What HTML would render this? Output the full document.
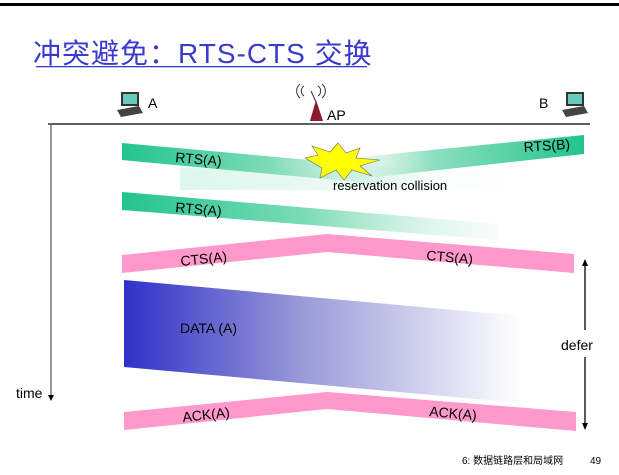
<!DOCTYPE html>
<html><head><meta charset="utf-8"><style>
html,body{margin:0;padding:0;background:#fff;width:619px;height:475px;overflow:hidden}
svg{display:block}
.l{font-family:"Liberation Sans","DejaVu Sans",sans-serif;font-size:14px;fill:#000}
</style></head><body>
<svg width="619" height="475" viewBox="0 0 619 475" xmlns="http://www.w3.org/2000/svg">
<defs>
<linearGradient id="g1" x1="0" x2="1" y1="0" y2="0"><stop offset="0" stop-color="#22c48e"/><stop offset="0.5" stop-color="#7fdcb8"/><stop offset="1" stop-color="#e6f7ef" stop-opacity="0.3"/></linearGradient>
<linearGradient id="g1r" x1="1" x2="0" y1="0" y2="0"><stop offset="0" stop-color="#22c48e"/><stop offset="0.6" stop-color="#8fdfc0"/><stop offset="1" stop-color="#e6f7ef" stop-opacity="0.2"/></linearGradient>
<linearGradient id="g2" x1="0" x2="1" y1="0" y2="0"><stop offset="0" stop-color="#3030c8"/><stop offset="0.45" stop-color="#9a9ad8"/><stop offset="1" stop-color="#ffffff"/></linearGradient>
</defs>
<rect x="0" y="3" width="619" height="3" fill="#000"/>
<text x="33" y="63" font-family="Liberation Sans,'Noto Sans CJK SC',sans-serif" font-size="28" letter-spacing="1" fill="#3a3acc">冲突避免：RTS-CTS 交换</text>
<rect x="36" y="66" width="331" height="1.3" fill="#3a3acc"/>
<g><rect x="121" y="92" width="18" height="14" fill="#333"/><rect x="123" y="94" width="14" height="10" fill="#6cb"/><polygon points="117,110 139,106 143,113 121,117" fill="#444"/></g>
<text x="148" y="108" class="l" font-size="14">A</text>
<g><rect x="566" y="92" width="18" height="14" fill="#333"/><rect x="568" y="94" width="14" height="10" fill="#6cb"/><polygon points="562,110 584,106 588,113 566,117" fill="#444"/></g>
<text x="539" y="108" class="l" font-size="14">B</text>
<g fill="none" stroke="#333" stroke-width="1"><path d="M304,86 a6,6 0 0 0 0,10"/><path d="M300,84 a9,9 0 0 0 0,14"/><path d="M318,86 a6,6 0 0 1 0,10"/><path d="M322,84 a9,9 0 0 1 0,14"/></g>
<line x1="311" y1="91" x2="316" y2="102" stroke="#333"/>
<polygon points="316,100 310,121 323,121" fill="#8b1a2e"/>
<text x="327" y="120" class="l" font-size="14">AP</text>
<line x1="48" y1="124" x2="590" y2="124" stroke="#000" stroke-width="1.3"/>
<line x1="51" y1="124" x2="51" y2="396" stroke="#555" stroke-width="1.2"/>
<polygon points="48,395 54,395 51,401" fill="#000"/>
<text x="16" y="398" class="l" font-size="14">time</text>
<polygon points="180,168 502,172 502,190 180,190" fill="url(#g1)" opacity="0.15"/>
<polygon points="122,143 420,170 420,188 122,160" fill="url(#g1)"/>
<polygon points="584,135 330,160 330,182 584,154" fill="url(#g1r)"/>
<polygon points="305,158 318,155 312,146 330,152 338,143 346,153 360,148 356,158 380,160 360,166 372,176 352,170 344,180 336,170 320,178 322,168" fill="#ffff00" stroke="#666" stroke-width="0.6"/>
<text x="175" y="162" class="l" transform="rotate(5 175 162)">RTS(A)</text>
<text x="524" y="152" class="l" transform="rotate(-4 524 152)">RTS(B)</text>
<text x="333" y="190" font-family="Liberation Sans,sans-serif" font-size="13" fill="#000">reservation collision</text>
<polygon points="122,192 498,224 498,240 122,210" fill="url(#g1)"/>
<text x="175" y="212" class="l" transform="rotate(5 175 212)">RTS(A)</text>
<polygon points="122,255 327,234 574,254 574,273 327,252 122,273" fill="#ff99cc"/>
<text x="181" y="266" class="l" transform="rotate(-6 181 266)">CTS(A)</text>
<text x="426" y="260" class="l" transform="rotate(5 426 260)">CTS(A)</text>
<polygon points="124,280 520,316 520,403 124,367" fill="url(#g2)"/>
<text x="180" y="333" class="l">DATA (A)</text>
<polygon points="124,412 327,392 576,412 576,431 327,409 124,430" fill="#ff99cc"/>
<text x="183" y="422" class="l" transform="rotate(-6 183 422)">ACK(A)</text>
<text x="429" y="416" class="l" transform="rotate(5 429 416)">ACK(A)</text>
<line x1="585" y1="264" x2="585" y2="330" stroke="#000" stroke-width="1.3"/>
<line x1="585" y1="357" x2="585" y2="425" stroke="#000" stroke-width="1.3"/>
<polygon points="582,266 588,266 585,259" fill="#000"/>
<polygon points="582,423 588,423 585,430" fill="#000"/>
<text x="561" y="350" class="l" font-size="15">defer</text>
<text x="462" y="464" font-family="Liberation Sans,'Noto Sans CJK SC',sans-serif" font-size="10" fill="#000">6: 数据链路层和局域网</text>
<text x="590" y="464" font-family="Liberation Sans,sans-serif" font-size="10" fill="#000">49</text>
</svg>
</body></html>
